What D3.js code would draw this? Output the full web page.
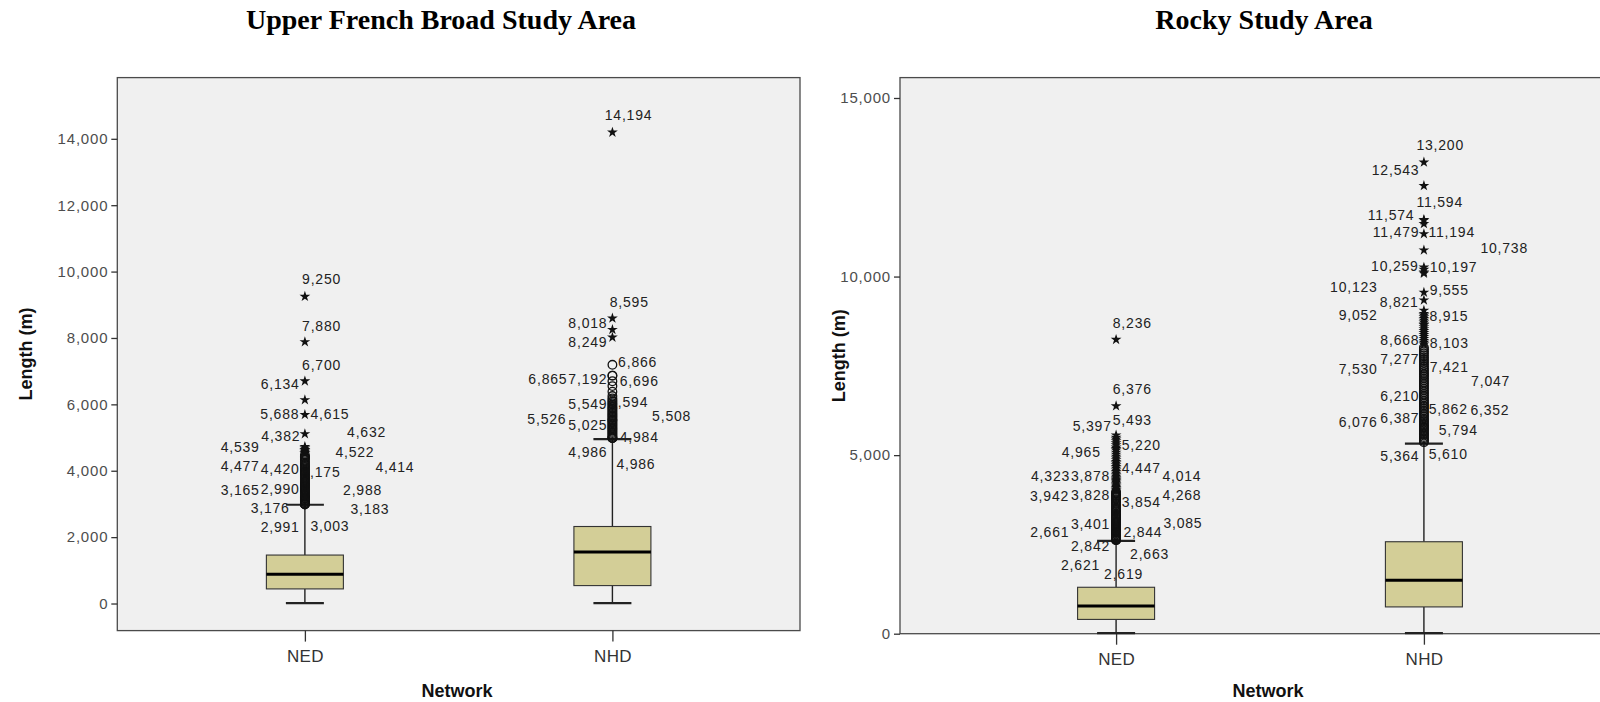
<!DOCTYPE html>
<html><head><meta charset="utf-8">
<script src="https://cdn.jsdelivr.net/npm/d3@7"></script>
<style>
html,body{margin:0;padding:0;background:#fff;}
svg{display:block;}
</style></head><body>
<svg id="chart" width="1600" height="702"></svg>
<script>
// ---------- data ----------
const categories = ["NED", "NHD"];
const panelTitles = ["Upper French Broad Study Area", "Rocky Study Area"];
const ufbTicks = [0, 2000, 4000, 6000, 8000, 10000, 12000, 14000];
const rockyTicks = [0, 5000, 10000, 15000];

// box summaries: [lower whisker, Q1, median, Q3, upper whisker] (m)
const ufbBoxNED = [10, 440, 880, 1460, 2975];
const ufbBoxNHD = [10, 540, 1550, 2320, 4950];
const rockyBoxNED = [15, 400, 775, 1300, 2600];
const rockyBoxNHD = [15, 750, 1495, 2575, 5320];

// segment lengths beyond the whiskers (m)
const ufbOutNED = [2988, 2990, 2991, 3003, 3024, 3047, 3068, 3094, 3118, 3141, 3165, 3176, 3183, 3206, 3232,
  3259, 3285, 3311, 3338, 3366, 3392, 3419, 3448, 3475, 3503, 3531, 3560, 3589, 3616, 3646, 3673, 3703, 3734,
  3762, 3791, 3821, 3852, 3881, 3911, 3944, 3976, 4007, 4041, 4072, 4106, 4139, 4175, 4211, 4247, 4286, 4331,
  4382, 4414, 4420, 4477, 4522, 4539, 4578, 4615, 4632, 4680, 4722, 5110, 5688, 6134, 6700, 7880, 9250];
const ufbOutNHD = [4984, 4986, 4986, 5025, 5061, 5098, 5137, 5172, 5210, 5248, 5283, 5321, 5358, 5394, 5431,
  5468, 5508, 5526, 5549, 5594, 5632, 5671, 5712, 5750, 5793, 5831, 5872, 5908, 5951, 5992, 6034, 6078, 6127,
  6180, 6250, 6380, 6550, 6696, 6865, 6866, 7192, 8018, 8249, 8595, 14194];
const rockyOutNED = [2619, 2621, 2640, 2661, 2663, 2684, 2707, 2731, 2752, 2776, 2799, 2821, 2842, 2844, 2866,
  2889, 2913, 2936, 2958, 2983, 3007, 3031, 3058, 3085, 3109, 3136, 3163, 3190, 3218, 3246, 3275, 3303, 3331,
  3360, 3401, 3432, 3465, 3497, 3530, 3562, 3597, 3631, 3664, 3698, 3733, 3768, 3801, 3828, 3854, 3878, 3910,
  3942, 3977, 4014, 4048, 4085, 4121, 4158, 4194, 4231, 4268, 4296, 4323, 4361, 4402, 4447, 4489, 4534, 4580,
  4628, 4675, 4722, 4770, 4818, 4865, 4915, 4965, 5021, 5076, 5134, 5178, 5220, 5283, 5340, 5397, 5445, 5493,
  5560, 6376, 8236];
const rockyOutNHD = [5364, 5398, 5436, 5471, 5508, 5547, 5582, 5610, 5652, 5690, 5731, 5765, 5794, 5830, 5862,
  5904, 5947, 5983, 6025, 6076, 6118, 6160, 6210, 6254, 6301, 6352, 6387, 6431, 6478, 6524, 6573, 6620, 6668,
  6716, 6763, 6812, 6860, 6908, 6956, 7005, 7047, 7096, 7145, 7194, 7241, 7277, 7330, 7378, 7421, 7473, 7530,
  7584, 7637, 7690, 7744, 7797, 7851, 7905, 7958, 8012, 8103, 8152, 8205, 8260, 8318, 8371, 8425, 8480, 8535,
  8590, 8642, 8668, 8720, 8773, 8821, 8868, 8915, 8962, 9052, 9340, 9555, 10090, 10123, 10197, 10259, 10738,
  11194, 11479, 11574, 11594, 12543, 13200];

// outliers that carry a value label
const ufbLabelNED = [9250, 7880, 6700, 6134, 5688, 4615, 4382, 4632, 4539, 4522, 4477, 4420, 4175, 4414,
  3165, 2990, 2988, 3176, 3183, 2991, 3003];
const ufbLabelNHD = [14194, 8595, 8018, 8249, 6866, 6865, 7192, 6696, 5549, 5594, 5526, 5025, 5508, 4984,
  4986, 4986];
const rockyLabelNED = [8236, 6376, 5397, 5493, 4965, 5220, 4323, 3878, 4447, 4014, 3942, 3828, 3854, 4268,
  2661, 3401, 2844, 3085, 2842, 2663, 2621, 2619];
const rockyLabelNHD = [13200, 12543, 11594, 11574, 11479, 11194, 10738, 10259, 10197, 10123, 9555, 8821,
  9052, 8915, 8668, 8103, 7277, 7530, 7421, 7047, 6210, 5862, 6352, 6076, 6387, 5794, 5364, 5610];

// ---------- layout ----------
// label placement around each labelled point: [anchor, dx, dy] in px ("s" = start, "e" = end)
const ufbPlaceNED = [["s",-2.8,-12],["s",-2.8,-11.4],["s",-2.8,-11.6],["e",-5.2,-11.4],["e",-5.5,3.8],
  ["s",5.5,-31.8],["e",-4.5,-17.5],["s",42.2,-12.5],["e",-45.2,-0.6],["s",30.5,3.1],["e",-45.2,15.6],
  ["e",-5.2,16.7],["s",-3.4,12.2],["s",70.5,15.2],["e",-45.2,-3.9],["e",-5.2,-9.8],["s",38.2,-9.8],
  ["e",-15.2,15.4],["s",45.5,16.6],["e",-5.2,28],["s",5.5,26.7]];
const ufbPlaceNHD = [["s",-7.7,-11.9],["s",-2.7,-11.7],["e",-5,-9.6],["e",-5,17.5],["s",5.7,-9.1],
  ["e",-45,8.2],["e",-5,19],["s",7.3,4.3],["e",-5,-10.5],["s",-3.2,-10.6],["e",-46,3.7],["e",-5,-6.9],
  ["s",39.7,0.8],["s",7.3,4.1],["e",-5,18.5],["s",4,30.8]];
const rockyPlaceNED = [["s",-3.3,-11.1],["s",-3.3,-11.5],["e",-4.3,-9.8],["s",-3.3,-13],["e",-15.3,0.8],
  ["s",5.7,3.2],["e",-46,1.9],["e",-6,-14],["s",5.7,-1.7],["s",46.3,-9.8],["e",-47,7.6],["e",-6,3.5],
  ["s",5.7,11.1],["s",46.3,19.2],["e",-46.7,-1.5],["e",-6,16.6],["s",7.3,5.1],["s",47.3,4.3],
  ["e",-6,18.3],["s",14,20.2],["e",-16,30.4],["s",-12,38.6]];
const rockyPlaceNHD = [["s",-7.5,-12.5],["e",-4.5,-10.3],["s",-7.5,-13.1],["e",-9.5,0.1],["e",-4.5,13.4],
  ["s",4.5,3.3],["s",56.5,3],["e",-5.2,3.2],["s",5.8,2.7],["e",-46.2,20],["s",5.8,3],["e",-5.2,-11.5],
  ["e",-46.2,9.1],["s",5.5,5.2],["e",-4.5,20.4],["s",5.8,3.5],["e",-4.5,-10],["e",-46.2,9],["s",5.8,3.5],
  ["s",47.2,3.5],["e",-4.5,-11.4],["s",4.8,-10.6],["s",46.5,8.6],["e",-46.2,9.8],["e",-4.5,17.6],
  ["s",14.8,8.7],["e",-4.5,18.4],["s",4.8,25.4]];

const panels = [
  { title: panelTitles[0], ticks: ufbTicks, x0: 117.3, x1: 800, y0: 77.6, y1: 630.6,
    domain: [-816, 15844], pad: 0.61, titleX: 441, netX: 457, yTitleX: 31.8,
    groups: [
      { cat: categories[0], box: ufbBoxNED, out: ufbOutNED, labels: ufbLabelNED, place: ufbPlaceNED },
      { cat: categories[1], box: ufbBoxNHD, out: ufbOutNHD, labels: ufbLabelNHD, place: ufbPlaceNHD }
    ] },
  { title: panelTitles[1], ticks: rockyTicks, x0: 900, x1: 1640, y0: 77.6, y1: 633.7,
    domain: [0, 15571], pad: 0.702, titleX: 1264, netX: 1268, yTitleX: 845,
    groups: [
      { cat: categories[0], box: rockyBoxNED, out: rockyOutNED, labels: rockyLabelNED, place: rockyPlaceNED },
      { cat: categories[1], box: rockyBoxNHD, out: rockyOutNHD, labels: rockyLabelNHD, place: rockyPlaceNHD }
    ] }
];

const BOX_HALF = 38.5, CAP_HALF = 19;
const fmt = d3.format(",");
const sans = "'Liberation Sans', Arial, sans-serif";
const svg = d3.select("#chart");

const starPath = d3.symbol().type(d3.symbolStar).size(36)();

panels.forEach((p, pi) => {
  const y = d3.scaleLinear().domain(p.domain).range([p.y1, p.y0]);
  const x = d3.scalePoint().domain(categories).range([p.x0, p.x1]).padding(p.pad);
  const g = svg.append("g");

  // title
  g.append("text").attr("x", p.titleX).attr("y", 29).attr("text-anchor", "middle")
    .attr("font-family", "'Liberation Serif', 'Times New Roman', serif").attr("font-weight", "bold")
    .attr("font-size", 28).attr("fill", "#000").text(p.title);

  // plot area
  g.append("rect").attr("x", p.x0).attr("y", p.y0).attr("width", p.x1 - p.x0).attr("height", p.y1 - p.y0)
    .attr("fill", "#f0f0f0").attr("stroke", "#4a4a4a").attr("stroke-width", 1.3);

  // y axis
  const ya = g.append("g").attr("transform", `translate(${p.x0},0)`)
    .call(d3.axisLeft(y).tickValues(p.ticks).tickFormat(fmt).tickSize(6).tickPadding(3));
  ya.select(".domain").remove();
  ya.selectAll("line").attr("stroke", "#333").attr("stroke-width", 1.3);
  ya.selectAll("text").attr("font-family", sans).attr("font-size", 15)
    .attr("letter-spacing", 0.8).attr("fill", "#4d4d4d");

  // x axis
  const xa = g.append("g").attr("transform", `translate(0,${p.y1})`)
    .call(d3.axisBottom(x).tickSize(11).tickPadding(8));
  xa.select(".domain").remove();
  xa.selectAll("line").attr("stroke", "#333").attr("stroke-width", 1.3);
  xa.selectAll("text").attr("font-family", sans).attr("font-size", 17)
    .attr("letter-spacing", 0.3).attr("fill", "#333");

  // axis titles
  g.append("text").attr("x", p.netX).attr("y", 697)
    .attr("text-anchor", "middle").attr("font-family", sans)
    .attr("font-weight", "bold").attr("font-size", 18).attr("fill", "#111").text("Network");
  g.append("text").attr("transform", `translate(${p.yTitleX},${(p.y0 + p.y1) / 2}) rotate(-90)`)
    .attr("text-anchor", "middle").attr("font-family", sans)
    .attr("font-weight", "bold").attr("font-size", 18).attr("fill", "#111").text("Length (m)");

  p.groups.forEach(grp => {
    const cx = x(grp.cat);
    const [lo, q1, med, q3, hi] = grp.box;
    const extreme = q3 + 3 * (q3 - q1);

    // value labels
    g.append("g").selectAll("text").data(grp.labels).join("text")
      .attr("x", (d, i) => cx + grp.place[i][1])
      .attr("y", (d, i) => y(d) + grp.place[i][2])
      .attr("text-anchor", (d, i) => grp.place[i][0] === "e" ? "end" : "start")
      .attr("font-family", sans).attr("font-size", 14)
      .attr("letter-spacing", 0.8).attr("fill", "#222").text(d => fmt(d));

    // whiskers and caps
    const wg = g.append("g").attr("stroke", "#222").attr("stroke-width", 1.4);
    wg.append("line").attr("x1", cx).attr("x2", cx).attr("y1", y(q3)).attr("y2", y(hi));
    wg.append("line").attr("x1", cx).attr("x2", cx).attr("y1", y(q1)).attr("y2", y(lo));
    wg.selectAll(".cap").data([lo, hi]).join("line").attr("class", "cap")
      .attr("x1", cx - CAP_HALF).attr("x2", cx + CAP_HALF).attr("y1", d => y(d)).attr("y2", d => y(d))
      .attr("stroke-width", 2.2);

    // box and median
    g.append("rect").attr("x", cx - BOX_HALF).attr("width", 2 * BOX_HALF)
      .attr("y", y(q3)).attr("height", y(q1) - y(q3))
      .attr("fill", "#d3ce97").attr("stroke", "#333").attr("stroke-width", 1.1);
    g.append("line").attr("x1", cx - BOX_HALF).attr("x2", cx + BOX_HALF)
      .attr("y1", y(med)).attr("y2", y(med)).attr("stroke", "#000").attr("stroke-width", 3);

    // outliers (circles) and extremes (stars)
    g.append("g").selectAll("circle").data(grp.out.filter(v => v <= extreme)).join("circle")
      .attr("cx", cx).attr("cy", d => y(d)).attr("r", 4.3)
      .attr("fill", "none").attr("stroke", "#111").attr("stroke-width", 1.3);
    g.append("g").selectAll("path").data(grp.out.filter(v => v > extreme)).join("path")
      .attr("d", starPath).attr("transform", d => `translate(${cx},${y(d)})`).attr("fill", "#111");
  });
});
</script>
</body></html>
